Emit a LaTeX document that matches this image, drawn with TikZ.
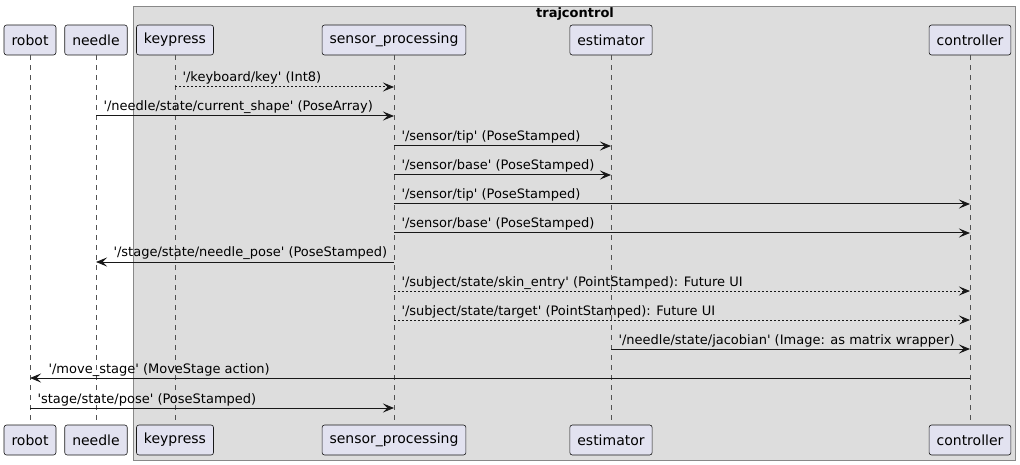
\documentclass[tikz,border=0pt]{standalone}
\usepackage{fontspec}
\setmainfont{DejaVu Sans}[Ligatures=TeXOff]
\usetikzlibrary{arrows.meta}
\definecolor{partfill}{HTML}{E2E2F0}
\definecolor{partline}{HTML}{181818}
\definecolor{boxfill}{HTML}{DDDDDD}
\definecolor{boxline}{HTML}{888888}

\begin{document}
\begin{tikzpicture}[x=1pt,y=-1pt]
\tikzset{
  participant/.style={draw=partline,fill=partfill,rounded corners=2.5pt,minimum height=30pt,inner xsep=7.5pt,line width=0.6pt,font=\fontsize{14}{16}\selectfont},
  lifeline/.style={draw=partline!75,line width=0.5pt,dash pattern=on 5pt off 5pt},
  msg/.style={-{Stealth[length=11pt,width=9pt,inset=4.5pt]},line width=1pt,draw=partline},
  msgdash/.style={msg,dash pattern=on 2pt off 2pt},
  msglabel/.style={font=\fontsize{13}{15}\selectfont,inner sep=0pt,anchor=base west,yshift=5pt}
}
\useasboundingbox (0,0) rectangle (1020,465);
\draw[boxline,fill=boxfill,line width=0.8pt] (133,6) rectangle (1015,460);
\node[font=\fontsize{13}{15}\bfseries,inner sep=0pt,anchor=base] (box_title) at (575,17.5) {trajcontrol};
% participants, top row
\node[participant] (robot_top) at (30,40) {robot};
\node[participant] (needle_top) at (96,40) {needle};
\node[participant] (kp_top) at (175,40) {keypress};
\node[participant] (sp_top) at (394,40) {sensor\_processing};
\node[participant] (est_top) at (611,40) {estimator};
\node[participant] (ctrl_top) at (970,40) {controller};
% participants, bottom row
\node[participant] (robot_bot) at (30,440) {robot};
\node[participant] (needle_bot) at (96,440) {needle};
\node[participant] (kp_bot) at (175,440) {keypress};
\node[participant] (sp_bot) at (394,440) {sensor\_processing};
\node[participant] (est_bot) at (611,440) {estimator};
\node[participant] (ctrl_bot) at (970,440) {controller};
% lifelines
\draw[lifeline] (robot_top) -- (robot_bot);
\draw[lifeline] (needle_top) -- (needle_bot);
\draw[lifeline] (kp_top) -- (kp_bot);
\draw[lifeline] (sp_top) -- (sp_bot);
\draw[lifeline] (est_top) -- (est_bot);
\draw[lifeline] (ctrl_top) -- (ctrl_bot);
% messages
\draw[msgdash] (kp_top |- 0,87) -- node[msglabel,pos=0,xshift=7pt] (l1) {'/keyboard/key' (Int8)} (sp_top |- 0,87);
\draw[msg] (needle_top |- 0,116) -- node[msglabel,pos=0,xshift=7pt] (l2) {'/needle/state/current\_shape' (PoseArray)} (sp_top |- 0,116);
\draw[msg] (sp_top |- 0,146) -- node[msglabel,pos=0,xshift=7pt] (l3) {'/sensor/tip' (PoseStamped)} (est_top |- 0,146);
\draw[msg] (sp_top |- 0,175) -- node[msglabel,pos=0,xshift=7pt] (l4) {'/sensor/base' (PoseStamped)} (est_top |- 0,175);
\draw[msg] (sp_top |- 0,204) -- node[msglabel,pos=0,xshift=7pt] (l5) {'/sensor/tip' (PoseStamped)} (ctrl_top |- 0,204);
\draw[msg] (sp_top |- 0,233) -- node[msglabel,pos=0,xshift=7pt] (l6) {'/sensor/base' (PoseStamped)} (ctrl_top |- 0,233);
\draw[msg] (sp_top |- 0,262) -- node[msglabel,pos=1,xshift=17pt] (l7) {'/stage/state/needle\_pose' (PoseStamped)} (needle_top |- 0,262);
\draw[msgdash] (sp_top |- 0,291) -- node[msglabel,pos=0,xshift=7pt] (l8) {'/subject/state/skin\_entry' (PointStamped): Future UI} (ctrl_top |- 0,291);
\draw[msgdash] (sp_top |- 0,320) -- node[msglabel,pos=0,xshift=7pt] (l9) {'/subject/state/target' (PointStamped): Future UI} (ctrl_top |- 0,320);
\draw[msg] (est_top |- 0,349) -- node[msglabel,pos=0,xshift=7pt] (l10) {'/needle/state/jacobian' (Image: as matrix wrapper)} (ctrl_top |- 0,349);
\draw[msg] (ctrl_top |- 0,378) -- node[msglabel,pos=1,xshift=18pt] (l11) {'/move\_stage' (MoveStage action)} (robot_top |- 0,378);
\draw[msg] (robot_top |- 0,408) -- node[msglabel,pos=0,xshift=7pt] (l12) {'stage/state/pose' (PoseStamped)} (sp_top |- 0,408);
\end{tikzpicture}
\end{document}
